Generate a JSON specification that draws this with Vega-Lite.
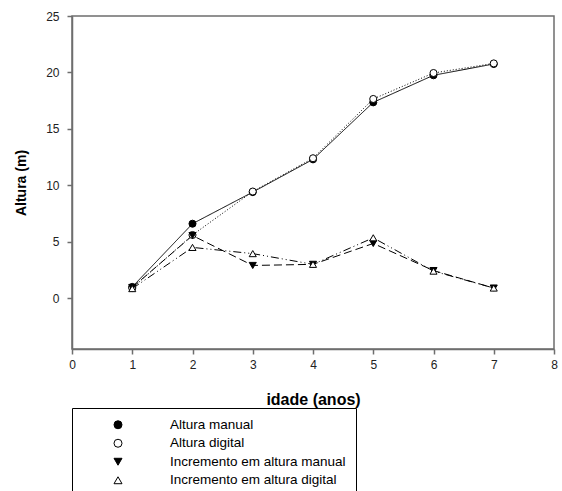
{
  "$schema": "https://vega.github.io/schema/vega-lite/v6.json",
  "width": 482,
  "height": 333,
  "autosize": "none",
  "padding": {"left": 72, "top": 16, "right": 8, "bottom": 142},
  "background": "white",
  "config": {
    "view": {"stroke": "#6e6e6e", "strokeWidth": 1.5},
    "font": "Liberation Sans",
    "axis": {
      "grid": false,
      "domainColor": "#6e6e6e",
      "domainWidth": 1.5,
      "tickColor": "#6e6e6e",
      "tickWidth": 1.5,
      "tickSize": 5,
      "labelFlush": false,
      "labelFont": "Liberation Sans",
      "labelFontSize": 12,
      "labelColor": "#222222",
      "titleFont": "Liberation Sans",
      "titleFontWeight": "bold",
      "titleColor": "#000000"
    }
  },
  "data": {
    "values": [
      {"idade": 1, "serie": "Altura manual", "valor": 1.0},
      {"idade": 2, "serie": "Altura manual", "valor": 6.6},
      {"idade": 3, "serie": "Altura manual", "valor": 9.4},
      {"idade": 4, "serie": "Altura manual", "valor": 12.3},
      {"idade": 5, "serie": "Altura manual", "valor": 17.35},
      {"idade": 6, "serie": "Altura manual", "valor": 19.75},
      {"idade": 7, "serie": "Altura manual", "valor": 20.75},
      {"idade": 1, "serie": "Altura digital", "valor": 0.9},
      {"idade": 2, "serie": "Altura digital", "valor": 5.6},
      {"idade": 3, "serie": "Altura digital", "valor": 9.45},
      {"idade": 4, "serie": "Altura digital", "valor": 12.4},
      {"idade": 5, "serie": "Altura digital", "valor": 17.65},
      {"idade": 6, "serie": "Altura digital", "valor": 19.95},
      {"idade": 7, "serie": "Altura digital", "valor": 20.8},
      {"idade": 1, "serie": "Incremento em altura manual", "valor": 0.95},
      {"idade": 2, "serie": "Incremento em altura manual", "valor": 5.55},
      {"idade": 3, "serie": "Incremento em altura manual", "valor": 2.9},
      {"idade": 4, "serie": "Incremento em altura manual", "valor": 3.0},
      {"idade": 5, "serie": "Incremento em altura manual", "valor": 4.85},
      {"idade": 6, "serie": "Incremento em altura manual", "valor": 2.45},
      {"idade": 7, "serie": "Incremento em altura manual", "valor": 0.9},
      {"idade": 1, "serie": "Incremento em altura digital", "valor": 0.85},
      {"idade": 2, "serie": "Incremento em altura digital", "valor": 4.5},
      {"idade": 3, "serie": "Incremento em altura digital", "valor": 3.95},
      {"idade": 4, "serie": "Incremento em altura digital", "valor": 3.0},
      {"idade": 5, "serie": "Incremento em altura digital", "valor": 5.35},
      {"idade": 6, "serie": "Incremento em altura digital", "valor": 2.4},
      {"idade": 7, "serie": "Incremento em altura digital", "valor": 0.9}
    ]
  },
  "encoding": {
    "x": {
      "field": "idade", "type": "quantitative",
      "scale": {"domain": [0, 8], "nice": false, "zero": false},
      "axis": {"values": [0, 1, 2, 3, 4, 5, 6, 7, 8], "title": "idade (anos)", "titleFontSize": 16, "labelPadding": 5, "titlePadding": 21}
    },
    "y": {
      "field": "valor", "type": "quantitative",
      "scale": {"domain": [-4.5, 25], "nice": false, "zero": false},
      "axis": {"values": [0, 5, 10, 15, 20, 25], "title": "Altura (m)", "titleFontSize": 14, "labelPadding": 8, "titlePadding": 17}
    }
  },
  "layer": [
    {
      "mark": {"type": "line", "color": "#000000", "strokeWidth": 1},
      "encoding": {
        "detail": {"field": "serie", "type": "nominal"},
        "strokeDash": {
          "field": "serie", "type": "nominal",
          "scale": {
            "domain": ["Incremento em altura digital", "Incremento em altura manual", "Altura digital", "Altura manual"],
            "range": [[8, 3, 1, 3, 1, 3], [8, 4], [1, 2], [1, 0]]
          },
          "legend": null
        }
      }
    },
    {
      "mark": {"type": "point", "filled": true, "stroke": "#000000", "strokeWidth": 1, "opacity": 1, "size": 50},
      "encoding": {
        "shape": {
          "field": "serie", "type": "nominal",
          "scale": {
            "domain": ["Altura manual", "Altura digital", "Incremento em altura manual", "Incremento em altura digital"],
            "range": ["circle", "circle", "triangle-down", "triangle-up"]
          },
          "legend": {
            "title": null,
            "orient": "none",
            "legendX": 0,
            "legendY": 392,
            "padding": 10,
            "strokeColor": "#000000",
            "fillColor": "#ffffff",
            "symbolSize": 64,
            "symbolStrokeWidth": 1,
            "symbolOffset": 29.25,
            "labelOffset": 45.25,
            "labelFont": "Liberation Sans",
            "labelFontSize": 13.5,
            "labelColor": "#000000",
            "labelLimit": 400,
            "rowPadding": 3.5
          }
        },
        "fill": {
          "field": "serie", "type": "nominal",
          "scale": {
            "domain": ["Altura manual", "Altura digital", "Incremento em altura manual", "Incremento em altura digital"],
            "range": ["#000000", "#ffffff", "#000000", "#ffffff"]
          }
        }
      }
    }
  ]
}
